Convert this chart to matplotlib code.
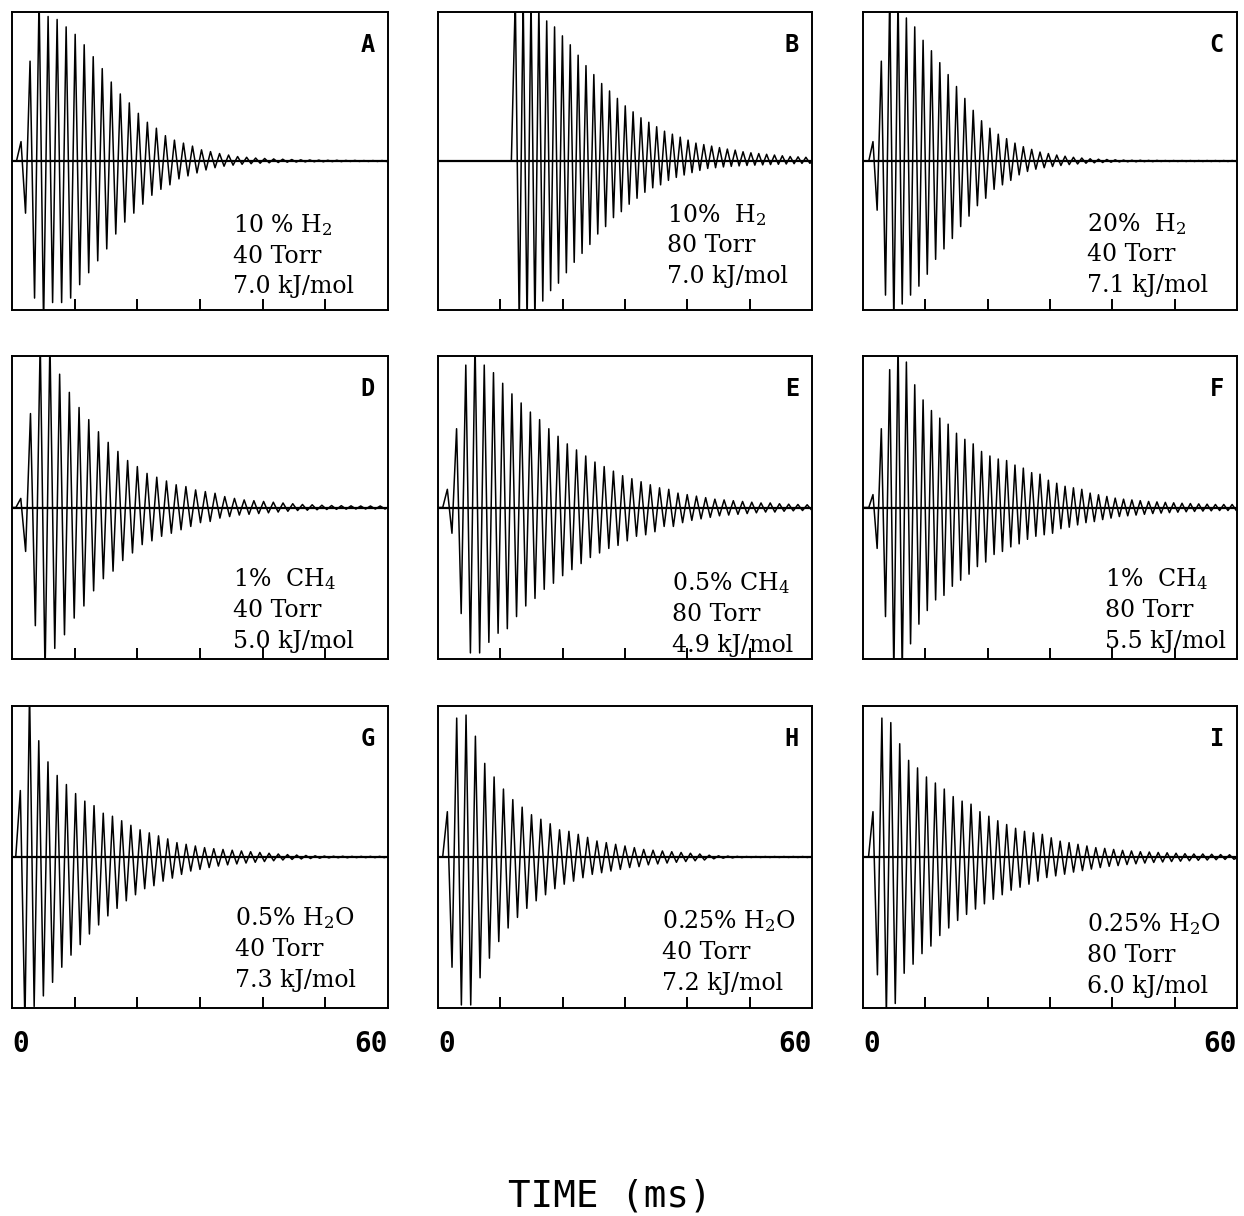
import numpy as np
import matplotlib.pyplot as plt

plt.rcParams['mathtext.fontset'] = 'dejavuserif'

# panel labels and annotation text
panels = ["A", "B", "C", "D", "E", "F", "G", "H", "I"]
mixture = ["10 % H$_2$", "10%  H$_2$", "20%  H$_2$",
           "1%  CH$_4$", "0.5% CH$_4$", "1%  CH$_4$",
           "0.5% H$_2$O", "0.25% H$_2$O", "0.25% H$_2$O"]
pressure = ["40 Torr", "80 Torr", "40 Torr",
            "40 Torr", "80 Torr", "80 Torr",
            "40 Torr", "40 Torr", "80 Torr"]
energy = ["7.0 kJ/mol", "7.0 kJ/mol", "7.1 kJ/mol",
          "5.0 kJ/mol", "4.9 kJ/mol", "5.5 kJ/mol",
          "7.3 kJ/mol", "7.2 kJ/mol", "6.0 kJ/mol"]

# time of first peak and oscillation period (ms)
first_peak_ms = [1.44, 12.4, 1.6, 1.4, 1.5, 1.6, 1.33, 1.5, 1.6]
period_ms = [1.44, 1.26, 1.34, 1.55, 1.48, 1.34, 1.47, 1.50, 1.43]

# positive peak and negative trough heights per cycle (fraction of half height)
pos_A = [0.13, 0.67, 1.1, 0.97, 0.95, 0.90, 0.85, 0.78, 0.70, 0.62, 0.53, 0.45, 0.39, 0.32,
         0.26, 0.22, 0.17, 0.14, 0.12, 0.10, 0.075, 0.063, 0.05, 0.04, 0.03, 0.025, 0.02,
         0.017, 0.014, 0.012, 0.01, 0.008, 0.007, 0.006, 0.005, 0.005, 0.004, 0.004, 0.003,
         0.003, 0.003]
neg_A = [0.35, 0.92, 1.1, 0.95, 0.95, 0.92, 0.83, 0.75, 0.67, 0.59, 0.49, 0.41, 0.35, 0.29,
         0.23, 0.19, 0.16, 0.12, 0.10, 0.08, 0.06, 0.045, 0.035, 0.028, 0.022, 0.018, 0.015,
         0.012, 0.01, 0.008, 0.007, 0.006, 0.005, 0.005, 0.004, 0.004, 0.003, 0.003, 0.003,
         0.003, 0.003]
pos_B = [1.1, 1.1, 1.1, 1.05, 0.94, 0.90, 0.84, 0.78, 0.71, 0.64, 0.58, 0.52, 0.47, 0.42,
         0.37, 0.33, 0.29, 0.26, 0.23, 0.20, 0.18, 0.16, 0.14, 0.12, 0.11, 0.10, 0.09, 0.08,
         0.073, 0.062, 0.055, 0.05, 0.045, 0.04, 0.035, 0.03, 0.028, 0.025]
neg_B = [1.1, 1.1, 1.1, 0.94, 0.87, 0.82, 0.75, 0.68, 0.62, 0.56, 0.49, 0.44, 0.38, 0.34,
         0.29, 0.25, 0.21, 0.18, 0.16, 0.13, 0.11, 0.094, 0.078, 0.063, 0.05, 0.045, 0.04,
         0.036, 0.033, 0.03, 0.028, 0.026, 0.024, 0.022, 0.02, 0.018, 0.016, 0.015]
pos_C = [0.13, 0.67, 1.1, 1.1, 0.96, 0.90, 0.81, 0.74, 0.66, 0.58, 0.50, 0.42, 0.34, 0.27,
         0.22, 0.18, 0.15, 0.12, 0.096, 0.078, 0.06, 0.05, 0.04, 0.032, 0.025, 0.02, 0.015,
         0.012, 0.01, 0.008, 0.006, 0.005, 0.005, 0.004, 0.004, 0.003, 0.003, 0.003, 0.003,
         0.003, 0.003, 0.003, 0.003, 0.003]
neg_C = [0.33, 0.90, 1.1, 0.96, 0.90, 0.84, 0.76, 0.66, 0.59, 0.52, 0.44, 0.37, 0.30, 0.25,
         0.19, 0.16, 0.13, 0.093, 0.07, 0.055, 0.045, 0.037, 0.03, 0.024, 0.02, 0.015, 0.012,
         0.01, 0.008, 0.006, 0.005, 0.005, 0.004, 0.004, 0.003, 0.003, 0.003, 0.003, 0.003,
         0.003, 0.003, 0.003, 0.003, 0.003]
pos_D = [0.06, 0.62, 1.1, 1.1, 0.88, 0.76, 0.66, 0.58, 0.50, 0.43, 0.37, 0.31, 0.27, 0.225,
         0.20, 0.175, 0.15, 0.138, 0.116, 0.105, 0.094, 0.072, 0.06, 0.05, 0.045, 0.04, 0.035,
         0.03, 0.025, 0.02, 0.018, 0.015, 0.013, 0.012, 0.011, 0.01, 0.01, 0.01, 0.01]
neg_D = [0.29, 0.78, 1.1, 0.93, 0.84, 0.73, 0.65, 0.55, 0.47, 0.42, 0.35, 0.30, 0.245, 0.22,
         0.19, 0.17, 0.147, 0.125, 0.10, 0.092, 0.07, 0.06, 0.05, 0.045, 0.04, 0.035, 0.03,
         0.025, 0.02, 0.018, 0.015, 0.013, 0.012, 0.011, 0.01, 0.01, 0.01, 0.01, 0.01]
pos_E = [0.12, 0.52, 0.94, 1.1, 0.94, 0.89, 0.82, 0.75, 0.69, 0.63, 0.58, 0.52, 0.47, 0.42,
         0.38, 0.34, 0.30, 0.27, 0.24, 0.21, 0.19, 0.17, 0.15, 0.13, 0.12, 0.095, 0.085, 0.075,
         0.065, 0.055, 0.05, 0.045, 0.04, 0.035, 0.03, 0.03, 0.025, 0.022, 0.02, 0.018]
neg_E = [0.17, 0.70, 0.96, 0.96, 0.89, 0.83, 0.80, 0.72, 0.65, 0.60, 0.54, 0.50, 0.45, 0.41,
         0.37, 0.33, 0.30, 0.27, 0.25, 0.22, 0.19, 0.18, 0.16, 0.125, 0.125, 0.10, 0.085, 0.075,
         0.065, 0.055, 0.05, 0.045, 0.04, 0.035, 0.03, 0.03, 0.025, 0.022, 0.02, 0.018]
pos_F = [0.085, 0.52, 0.91, 1.1, 0.96, 0.81, 0.71, 0.64, 0.59, 0.55, 0.49, 0.45, 0.42, 0.37,
         0.34, 0.32, 0.31, 0.28, 0.26, 0.23, 0.22, 0.18, 0.16, 0.14, 0.13, 0.12, 0.095, 0.084,
         0.073, 0.062, 0.055, 0.05, 0.045, 0.04, 0.037, 0.034, 0.031, 0.028, 0.026, 0.024,
         0.022, 0.02, 0.02, 0.02]
neg_F = [0.27, 0.72, 1.1, 1.1, 0.90, 0.77, 0.68, 0.61, 0.58, 0.52, 0.48, 0.44, 0.39, 0.36,
         0.31, 0.29, 0.26, 0.24, 0.21, 0.19, 0.18, 0.17, 0.14, 0.13, 0.115, 0.10, 0.093, 0.08,
         0.07, 0.06, 0.055, 0.05, 0.045, 0.04, 0.037, 0.034, 0.031, 0.028, 0.026, 0.024,
         0.022, 0.02, 0.02, 0.02]
pos_G = [0.44, 1.1, 0.77, 0.63, 0.54, 0.48, 0.42, 0.37, 0.34, 0.29, 0.27, 0.24, 0.21, 0.18,
         0.16, 0.14, 0.12, 0.095, 0.084, 0.073, 0.062, 0.055, 0.05, 0.045, 0.04, 0.035, 0.03,
         0.025, 0.02, 0.016, 0.013, 0.01, 0.008, 0.006, 0.005, 0.005, 0.004, 0.004, 0.004,
         0.004, 0.004]
neg_G = [1.1, 0.99, 0.92, 0.83, 0.73, 0.65, 0.58, 0.51, 0.45, 0.39, 0.34, 0.29, 0.25, 0.21,
         0.19, 0.16, 0.14, 0.115, 0.093, 0.082, 0.07, 0.06, 0.052, 0.046, 0.04, 0.035, 0.03,
         0.025, 0.02, 0.016, 0.013, 0.01, 0.008, 0.006, 0.005, 0.005, 0.004, 0.004, 0.004,
         0.004, 0.004]
pos_H = [0.30, 0.92, 0.94, 0.80, 0.62, 0.53, 0.45, 0.38, 0.33, 0.28, 0.25, 0.22, 0.18, 0.17,
         0.15, 0.13, 0.106, 0.095, 0.084, 0.073, 0.062, 0.05, 0.045, 0.04, 0.035, 0.03, 0.025,
         0.02, 0.012, 0.008, 0.006, 0.004, 0.003, 0.003, 0.003, 0.003, 0.003, 0.003, 0.003,
         0.003]
neg_H = [0.73, 0.98, 0.98, 0.80, 0.67, 0.56, 0.47, 0.40, 0.34, 0.29, 0.25, 0.21, 0.18, 0.16,
         0.137, 0.115, 0.104, 0.093, 0.082, 0.07, 0.064, 0.052, 0.046, 0.04, 0.035, 0.03,
         0.025, 0.02, 0.012, 0.008, 0.006, 0.004, 0.003, 0.003, 0.003, 0.003, 0.003, 0.003,
         0.003, 0.003]
pos_I = [0.30, 0.92, 0.89, 0.75, 0.64, 0.59, 0.53, 0.49, 0.45, 0.40, 0.37, 0.35, 0.30, 0.27,
         0.24, 0.215, 0.19, 0.17, 0.16, 0.15, 0.127, 0.105, 0.095, 0.084, 0.073, 0.062, 0.057,
         0.05, 0.044, 0.04, 0.035, 0.033, 0.03, 0.028, 0.025, 0.022, 0.02, 0.02, 0.018, 0.016,
         0.015]
neg_I = [0.78, 1.05, 0.97, 0.77, 0.71, 0.64, 0.59, 0.52, 0.47, 0.42, 0.38, 0.345, 0.31, 0.28,
         0.25, 0.22, 0.20, 0.18, 0.16, 0.136, 0.125, 0.114, 0.10, 0.09, 0.08, 0.07, 0.062,
         0.057, 0.05, 0.045, 0.04, 0.036, 0.033, 0.03, 0.028, 0.025, 0.022, 0.02, 0.018, 0.016,
         0.015]

peaks = [(pos_A, neg_A), (pos_B, neg_B), (pos_C, neg_C),
         (pos_D, neg_D), (pos_E, neg_E), (pos_F, neg_F),
         (pos_G, neg_G), (pos_H, neg_H), (pos_I, neg_I)]

xticks = [10, 20, 30, 40, 50]

# layout (pixels of the 1244x1216 figure)
W, H = 1244, 1216
col_px = [(12, 388), (438, 812), (863, 1237)]
row_px = [(12, 310), (356, 659), (706, 1008)]
# annotation anchor: left edge and last baseline, as axes fractions
text_pos = [(0.588, 0.057), (0.611, 0.091), (0.598, 0.061),
            (0.588, 0.036), (0.625, 0.024), (0.647, 0.036),
            (0.593, 0.071), (0.598, 0.060), (0.598, 0.050)]
line_step = 0.102

fig = plt.figure(figsize=(W / 100, H / 100), dpi=100)

for i, name in enumerate(panels):
    r, c = divmod(i, 3)
    x0, x1 = col_px[c]
    y0, y1 = row_px[r]
    ax = fig.add_axes([x0 / W, 1 - y1 / H, (x1 - x0) / W, (y1 - y0) / H])

    # zigzag through the read peaks/troughs
    pos, neg = peaks[i]
    n = min(len(pos), len(neg))
    t0, per = first_peak_ms[i], period_ms[i]
    t = [0.0, t0 - per / 2]
    y = [0.0, 0.0]
    for k in range(n):
        t += [t0 + k * per, t0 + (k + 0.5) * per]
        y += [pos[k], -neg[k]]
    t += [t[-1] + per / 2, 60.0]
    y += [0.0, 0.0]
    t = np.array(t)
    y = np.array(y)
    keep = t <= 60.5
    ax.plot(t[keep], y[keep], color="black", lw=1.1)
    ax.axhline(0, color="black", lw=1.6)

    ax.set_xlim(0, 60)
    ax.set_ylim(-1, 1)
    ax.set_xticks(xticks)
    ax.set_yticks([])
    ax.tick_params(axis="x", direction="in", length=8, width=1.4, labelbottom=False)
    for s in ax.spines.values():
        s.set_linewidth(1.4)

    ax.text(0.965, 0.93, name, transform=ax.transAxes, ha="right", va="top",
            family="DejaVu Sans Mono", fontsize=17, fontweight="bold")

    tx, ty = text_pos[i]
    for j, line in enumerate([mixture[i], pressure[i], energy[i]]):
        ax.text(tx, ty + (2 - j) * line_step, line, transform=ax.transAxes,
                ha="left", va="baseline", family="DejaVu Serif", fontsize=17,
                clip_on=False)

    if r == 2:
        ax.text(0.0, -0.12, "0", transform=ax.transAxes, ha="left", va="center",
                family="DejaVu Sans Mono", fontsize=20, fontweight="bold")
        ax.text(1.0, -0.12, "60", transform=ax.transAxes, ha="right", va="center",
                family="DejaVu Sans Mono", fontsize=20, fontweight="bold")

fig.text(610 / W, 1 - 1197 / H, "TIME (ms)", ha="center", va="center",
         family="DejaVu Sans Mono", fontsize=27)

fig.savefig("out.png", dpi=100, facecolor="white")
